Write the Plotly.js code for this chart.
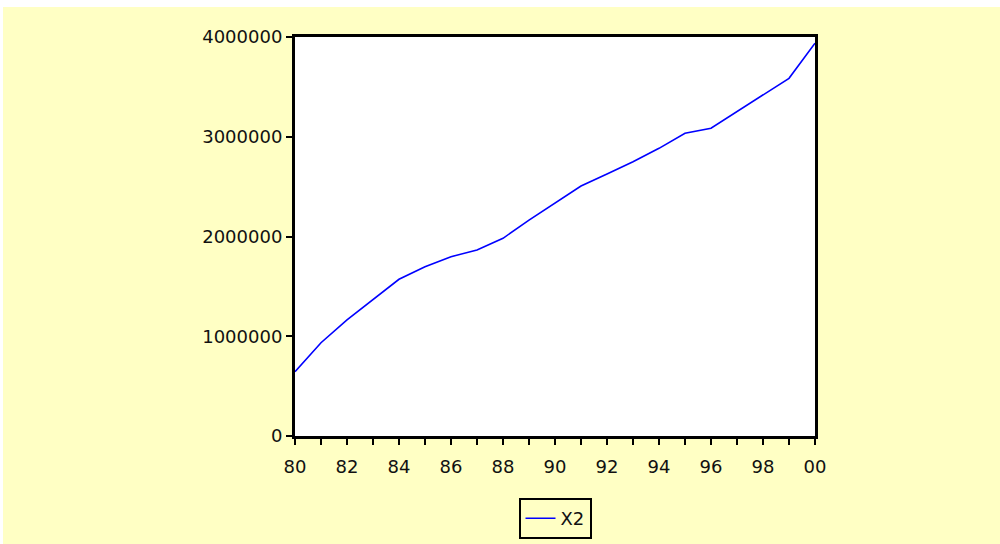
<!DOCTYPE html>
<html>
<head>
<meta charset="utf-8">
<script src="https://cdn.plot.ly/plotly-3.0.1.min.js"></script>
<style>
  html, body { margin: 0; padding: 0; background: #ffffff; }
  #chart { position: absolute; left: 3px; top: 7px; width: 997px; height: 537px; }
</style>
</head>
<body>
<div id="chart"></div>
<script>
// Data
const years = [1980, 1981, 1982, 1983, 1984, 1985, 1986, 1987, 1988, 1989, 1990,
               1991, 1992, 1993, 1994, 1995, 1996, 1997, 1998, 1999, 2000];
const x2 = [645000, 935000, 1163000, 1363000, 1571000, 1697000, 1798000, 1865000, 1982000, 2165000, 2335000,
            2506000, 2627000, 2750000, 2884000, 3035000, 3085000, 3250000, 3419000, 3586000, 3937000];
const xTickVals = years;
const xTickText = ["80", "", "82", "", "84", "", "86", "", "88", "", "90",
                   "", "92", "", "94", "", "96", "", "98", "", "00"];
const yTickVals = [0, 1000000, 2000000, 3000000, 4000000];
const yTickText = ["0", "1000000", "2000000", "3000000", "4000000"];

const font = { family: "DejaVu Sans, sans-serif", size: 18, color: "#111111" };

const trace = {
  x: years, y: x2, type: "scatter", mode: "lines", name: "X2",
  line: { color: "#0000FF", width: 1.6 }
};

const layout = {
  width: 997, height: 537,
  margin: { l: 292, r: 185, t: 30, b: 108, pad: 0 },
  paper_bgcolor: "#FFFFC4",
  plot_bgcolor: "#FFFFFF",
  font: font,
  showlegend: true,
  legend: {
    orientation: "h", x: 0.5, xanchor: "center",
    yref: "container", y: 1 - 491 / 537, yanchor: "top",
    bgcolor: "#FFFFC4", bordercolor: "#000000", borderwidth: 2,
    font: font
  },
  xaxis: {
    range: [1980, 2000], showgrid: false, zeroline: false, automargin: false,
    showline: true, linecolor: "#000000", linewidth: 3, mirror: true,
    ticks: "outside", ticklen: 6, tickwidth: 2, tickcolor: "#000000",
    tickmode: "array", tickvals: xTickVals, ticktext: xTickText,
    ticklabelstandoff: 6,
    tickfont: font
  },
  yaxis: {
    range: [0, 4000000], showgrid: false, zeroline: false, automargin: false,
    showline: true, linecolor: "#000000", linewidth: 3, mirror: true,
    ticks: "outside", ticklen: 6, tickwidth: 2, tickcolor: "#000000",
    tickmode: "array", tickvals: yTickVals, ticktext: yTickText,
    tickfont: font
  }
};

Plotly.newPlot("chart", [trace], layout, { displayModeBar: false, staticPlot: true });
</script>
</body>
</html>
